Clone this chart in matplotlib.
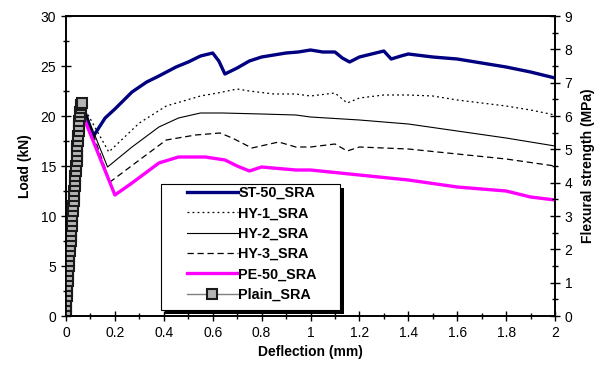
import matplotlib
matplotlib.use("Agg")
import matplotlib.pyplot as plt
from matplotlib.ticker import MultipleLocator, FuncFormatter
from matplotlib.patches import Rectangle

plt.rcParams['font.family'] = ['Liberation Sans', 'DejaVu Sans']

# ---- data ----
st_x = [0.07, 0.11, 0.16, 0.2, 0.27, 0.33, 0.38, 0.45, 0.5, 0.55, 0.6, 0.625, 0.65, 0.7, 0.75, 0.8,
        0.85, 0.9, 0.95, 1.0, 1.05, 1.1, 1.13, 1.16, 1.2, 1.25, 1.3, 1.33, 1.37, 1.4, 1.5, 1.6,
        1.7, 1.8, 1.9, 2.0]
st_y = [21.0, 17.9, 19.8, 20.7, 22.4, 23.4, 24.0, 24.9, 25.4, 26.0, 26.3, 25.5, 24.2, 24.8, 25.5, 25.9,
        26.1, 26.3, 26.4, 26.6, 26.4, 26.4, 25.8, 25.4, 25.9, 26.2, 26.5, 25.7, 26.0, 26.2, 25.9, 25.7,
        25.3, 24.9, 24.4, 23.8]

hy1_x = [0.07, 0.175, 0.3, 0.41, 0.55, 0.62, 0.7, 0.75, 0.85, 0.94, 1.0, 1.1, 1.15, 1.2, 1.3, 1.4,
         1.5, 1.6, 1.7, 1.8, 1.9, 2.0]
hy1_y = [21.0, 16.4, 19.3, 21.0, 22.0, 22.3, 22.7, 22.5, 22.2, 22.2, 22.0, 22.3, 21.3, 21.8, 22.1, 22.1,
         22.0, 21.6, 21.3, 21.0, 20.6, 20.1]

hy2_x = [0.07, 0.17, 0.27, 0.38, 0.46, 0.55, 0.64, 0.8, 0.94, 1.0, 1.2, 1.4, 1.6, 1.8, 2.0]
hy2_y = [21.0, 14.9, 16.9, 18.9, 19.8, 20.3, 20.3, 20.2, 20.1, 19.9, 19.6, 19.2, 18.5, 17.8, 17.0]

hy3_x = [0.07, 0.18, 0.3, 0.41, 0.53, 0.63, 0.68, 0.76, 0.87, 0.94, 1.0, 1.1, 1.15, 1.2, 1.4, 1.6,
         1.8, 2.0]
hy3_y = [21.0, 13.4, 15.6, 17.6, 18.1, 18.3, 17.8, 16.8, 17.4, 16.9, 16.9, 17.2, 16.5, 16.9, 16.7, 16.2,
         15.7, 15.0]

pe_x = [0.07, 0.2, 0.27, 0.38, 0.46, 0.57, 0.65, 0.70, 0.75, 0.80, 0.94, 1.0, 1.2, 1.4, 1.6, 1.8,
        1.9, 2.0]
pe_y = [20.0, 12.1, 13.3, 15.3, 15.9, 15.9, 15.6, 15.0, 14.5, 14.9, 14.6, 14.6, 14.1, 13.6, 12.9, 12.5,
        11.9, 11.6]

plain_x = [0.000, 0.000, 0.001, 0.002, 0.003, 0.004, 0.005, 0.007, 0.008, 0.010, 0.011, 0.013, 0.014,
           0.016, 0.017, 0.019, 0.020, 0.022, 0.023, 0.025, 0.026, 0.028, 0.029, 0.031, 0.032, 0.034,
           0.035, 0.037, 0.038, 0.040, 0.041, 0.043, 0.044, 0.046, 0.047, 0.049, 0.050, 0.052, 0.053,
           0.055, 0.057, 0.059, 0.061, 0.063, 0.065]
plain_y = [0.0, 0.5, 1.0, 1.5, 2.0, 2.5, 3.0, 3.5, 4.0, 4.5, 5.0, 5.5, 6.0, 6.5, 7.0, 7.5, 8.0, 8.5,
           9.0, 9.5, 10.0, 10.5, 11.0, 11.5, 12.0, 12.5, 13.0, 13.5, 14.0, 14.5, 15.0, 15.5, 16.0,
           16.5, 17.0, 17.5, 18.0, 18.5, 19.0, 19.5, 20.0, 20.4, 20.8, 21.1, 21.3]

labels = ['ST-50_SRA', 'HY-1_SRA', 'HY-2_SRA', 'HY-3_SRA', 'PE-50_SRA', 'Plain_SRA']

W, H = 611, 383
fig = plt.figure(figsize=(W / 100, H / 100), dpi=100)
ax = fig.add_axes([66 / W, 1 - 316 / H, (555 - 66) / W, (316 - 16) / H])

ax.plot(st_x, st_y, color='#000080', lw=2.4, label=labels[0], zorder=3)
ax.plot(hy1_x, hy1_y, color='black', lw=0.9, ls=(0, (1.5, 2.5)), label=labels[1], zorder=3)
ax.plot(hy2_x, hy2_y, color='black', lw=0.8, label=labels[2], zorder=3)
ax.plot(hy3_x, hy3_y, color='black', lw=0.9, ls=(0, (5, 3)), label=labels[3], zorder=3)
ax.plot(pe_x, pe_y, color='#ff00ff', lw=2.4, label=labels[4], zorder=3)
ax.plot(plain_x, plain_y, color='#808080', lw=1.0, marker='s', ms=6.5, mfc='#b4b4b4',
        mec='#1a1a1a', mew=1.5, label=labels[5], zorder=4)

ax.set_xlim(0, 2)
ax.set_ylim(0, 30)
ax.xaxis.set_major_locator(MultipleLocator(0.2))
ax.xaxis.set_minor_locator(MultipleLocator(0.1))
ax.yaxis.set_major_locator(MultipleLocator(5))
ax.yaxis.set_minor_locator(MultipleLocator(2.5))
ax.xaxis.set_major_formatter(FuncFormatter(lambda v, p: ('%g' % round(v, 2))))
ax.tick_params(which='major', direction='inout', length=7, width=1, labelsize=10)
ax.tick_params(which='minor', direction='inout', length=4, width=1)
for s in ax.spines.values():
    s.set_linewidth(1.2)

ax.set_xlabel('Deflection (mm)', fontsize=10, fontweight='bold', labelpad=4)
ax.set_ylabel('Load (kN)', fontsize=10, fontweight='bold', labelpad=6)

ax2 = ax.twinx()
ax2.set_ylim(0, 9)
ax2.yaxis.set_major_locator(MultipleLocator(1))
ax2.yaxis.set_minor_locator(MultipleLocator(0.5))
ax2.tick_params(which='major', direction='inout', length=7, width=1, labelsize=10)
ax2.tick_params(which='minor', direction='inout', length=4, width=1)
ax2.set_ylabel('Flexural strength (MPa)', fontsize=10, fontweight='bold', labelpad=6)
for s in ax2.spines.values():
    s.set_linewidth(1.2)

# legend frame with solid black drop shadow (figure-pixel layout)
bx0, by0, bx1, by1 = 161, 184, 340, 310
shadow = Rectangle((bx0 / W + 4 / W, 1 - by1 / H - 4 / H), (bx1 - bx0) / W, (by1 - by0) / H,
                   transform=fig.transFigure, facecolor='black', edgecolor='none', zorder=20)
frame = Rectangle((bx0 / W, 1 - by1 / H), (bx1 - bx0) / W, (by1 - by0) / H,
                  transform=fig.transFigure, facecolor='white', edgecolor='black', lw=0.8, zorder=21)
fig.add_artist(shadow)
fig.add_artist(frame)

handles, lbls = ax.get_legend_handles_labels()
leg = fig.legend(handles, lbls, loc='upper left',
                 bbox_to_anchor=(187 / W, 1 - 186 / H), bbox_transform=fig.transFigure,
                 prop={'weight': 'bold', 'size': 10.4}, handlelength=3.5, numpoints=1,
                 frameon=False, borderpad=0, borderaxespad=0,
                 labelspacing=0.44, handletextpad=0.05)
leg.set_zorder(22)

fig.savefig('out.png', dpi=100)
